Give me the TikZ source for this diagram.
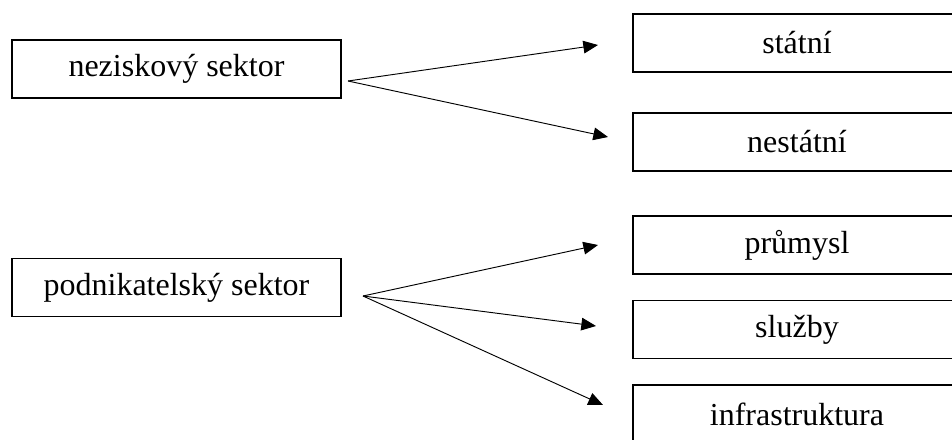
\documentclass[tikz,border=0pt]{standalone}
\usepackage{fontspec}
\setmainfont{Liberation Serif}
\usetikzlibrary{arrows.meta}
\tikzset{%
  sector/.style = {shape=rectangle, draw, line width=1.1pt,%
                   minimum width=246.75pt, minimum height=43.5pt,%
                   font=\fontsize{24}{28}\selectfont},%
  branch/.style = {sector, minimum width=246pt},%
  link/.style   = {line width=0.7pt, -{Triangle[length=11pt,width=9.5pt]}}%
}

\begin{document}
\begin{tikzpicture}[x=0.75pt,y=-0.75pt]
	\useasboundingbox (0,0) rectangle (952,439);
	\clip (0,0) rectangle (952,439);
	% left column
	\node (ngo) at (176.5,69) [sector] {neziskový sektor};
	\node (biz) at (176.5,287.5) [sector] {podnikatelský sektor};
	% right column
	\node (statni) at (797,43) [branch] {státní};
	\node (nestatni) at (797,142) [branch] {nestátní};
	\node (prumysl) at (797,245) [branch] {průmysl};
	\node (sluzby) at (797,329.5) [branch] {služby};
	\node (infra) at (797,414) [branch] {infrastruktura};
	% arrow ends
	\coordinate (ngo-out) at (348,81);
	\coordinate (biz-out) at (363,296);
	\coordinate (statni-in) at (598,45);
	\coordinate (nestatni-in) at (608,137);
	\coordinate (prumysl-in) at (598,245);
	\coordinate (sluzby-in) at (596,326);
	\coordinate (infra-in) at (603,405);
	\draw [link] (ngo-out) -- (statni-in);
	\draw [link] (ngo-out) -- (nestatni-in);
	\draw [link] (biz-out) -- (prumysl-in);
	\draw [link] (biz-out) -- (sluzby-in);
	\draw [link] (biz-out) -- (infra-in);
\end{tikzpicture}
\end{document}
